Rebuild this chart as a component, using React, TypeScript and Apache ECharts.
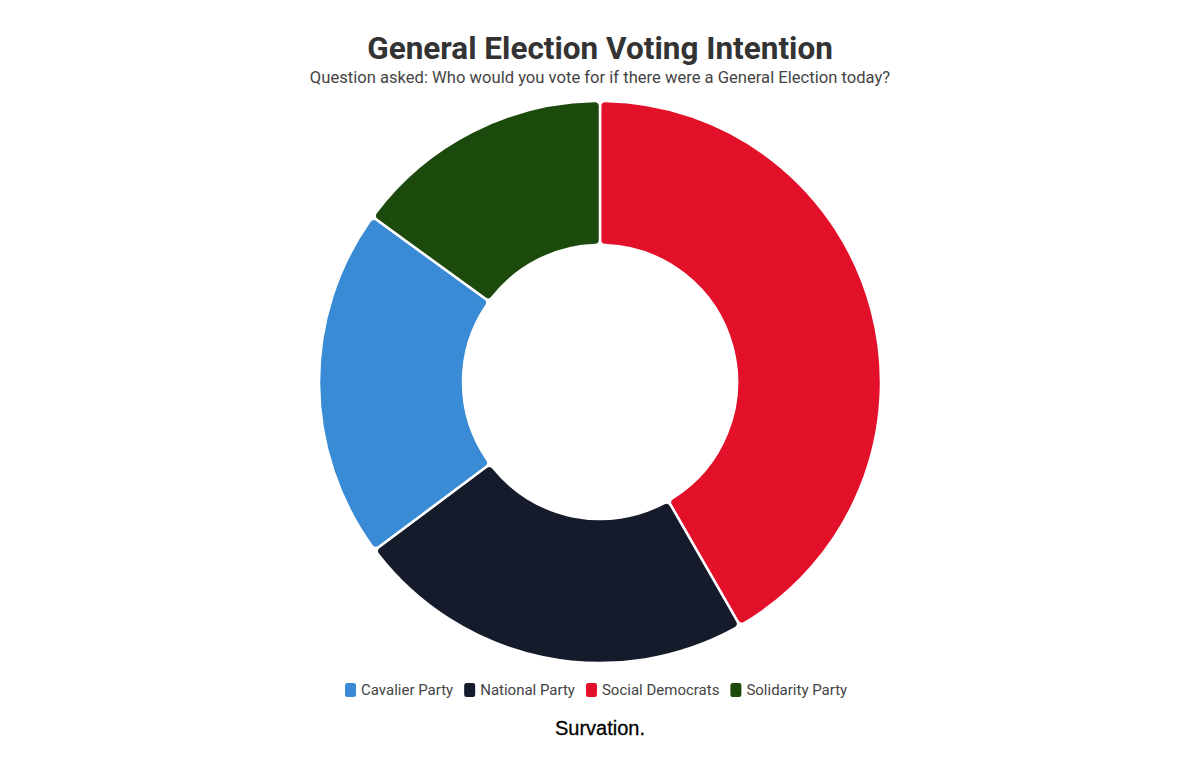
import React, { useEffect, useRef } from "react";
import * as echarts from "echarts";

const parties = ["Social Democrats", "National Party", "Cavalier Party", "Solidarity Party"];
const shares = [41.7, 23.1, 20.2, 15.0];
const colors = ["#E3102A", "#151B2B", "#3A8BD6", "#1C4A0C"];
const legendOrder = ["Cavalier Party", "National Party", "Social Democrats", "Solidarity Party"];

export default function App() {
  const ref = useRef<HTMLDivElement>(null);
  useEffect(() => {
    document.body.style.margin = "0";
    const chart = echarts.init(ref.current!, null, { renderer: "svg" });
    chart.setOption({
      animation: false,
      backgroundColor: "#ffffff",
      title: {
        text: "General Election Voting Intention",
        subtext: "Question asked: Who would you vote for if there were a General Election today?",
        left: "center",
        top: 27,
        itemGap: 5,
        textStyle: { fontFamily: "Roboto", fontSize: 31.5, fontWeight: "bold", color: "#333333" },
        subtextStyle: { fontFamily: "Roboto", fontSize: 16.6, color: "#444444" },
      },
      legend: {
        data: legendOrder,
        left: 338,
        top: 676,
        icon: "roundRect",
        itemWidth: 13,
        itemHeight: 16,
        itemGap: 9,
        textStyle: { fontFamily: "Roboto", fontSize: 15, color: "#444444", padding: [0, 0, 0, -1] },
      },
      graphic: [
        {
          type: "text",
          left: "center",
          top: 718,
          style: { text: "Survation.", fontFamily: "Liberation Sans", fontSize: 20, fontWeight: 500, fill: "#000000", stroke: "#000000", lineWidth: 0.3 },
        },
      ],
      series: [
        {
          type: "pie",
          center: [600, 382],
          radius: [137, 281],
          startAngle: 90,
          clockwise: true,
          label: { show: false },
          labelLine: { show: false },
          itemStyle: { borderColor: "#ffffff", borderWidth: 2.5, borderRadius: 5 },
          emphasis: { disabled: true },
          data: parties.map((name, i) => ({ name, value: shares[i], itemStyle: { color: colors[i] } })),
        },
      ],
    });
    return () => chart.dispose();
  }, []);
  return <div ref={ref} style={{ width: 1200, height: 771 }} />;
}
